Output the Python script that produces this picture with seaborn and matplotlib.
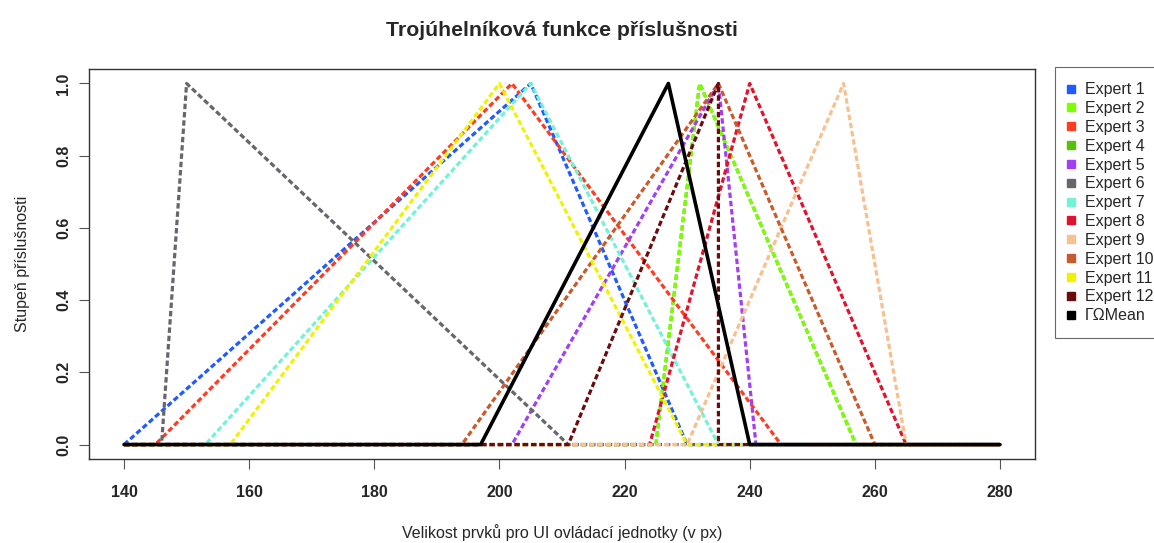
import numpy as np
import pandas as pd
import matplotlib
matplotlib.use('Agg')
import matplotlib.pyplot as plt
import seaborn as sns
from matplotlib.lines import Line2D

# triangular membership functions: (left foot, peak, right foot)
labels = ['Expert 1', 'Expert 2', 'Expert 3', 'Expert 4', 'Expert 5', 'Expert 6',
          'Expert 7', 'Expert 8', 'Expert 9', 'Expert 10', 'Expert 11', 'Expert 12',
          'ΓΩMean']
left_foot = [140, 225, 145, 225, 202, 146, 153, 224, 230, 194, 157, 211, 197]
peak = [205, 232, 202, 232, 235, 150, 205, 240, 255, 235, 200, 235, 227]
right_foot = [230, 257, 245, 257, 241, 211, 235, 265, 265, 260, 230, 235, 240]
x_range = [140, 280]

colors = ['#1f5bff', '#7cff00', '#ff3b22', '#56c10a', '#a23ff5', '#66676d',
          '#72f2d6', '#e3122c', '#f8c08f', '#c95a2b', '#f2f200', '#6a0b0e',
          '#000000']

sns.set_style('white')
plt.rcParams['font.family'] = ['Liberation Sans', 'DejaVu Sans']

fig = plt.figure(figsize=(11.54, 5.43), dpi=100)
ax = fig.add_axes([0.0771, 0.1547, 0.8198, 0.7182])

# expert 4 lies under expert 2, draw it first so the lime line stays on top
order = [3] + [i for i in range(len(labels)) if i != 3]
for i in order:
    df = pd.DataFrame({
        'x': [x_range[0], left_foot[i], peak[i], right_foot[i], x_range[1]],
        'y': [0, 0, 1, 0, 0],
    })
    if labels[i] == 'ΓΩMean':
        sns.lineplot(data=df, x='x', y='y', ax=ax, color=colors[i], lw=2.6,
                     sort=False, estimator=None)
    else:
        sns.lineplot(data=df, x='x', y='y', ax=ax, color=colors[i], lw=2.3,
                     sort=False, estimator=None)
        ax.lines[-1].set_dashes([1.7, 0.9])

ax.set_xlim(134.4, 285.6)
ax.set_ylim(-0.04, 1.04)
ax.set_xticks(np.arange(140, 281, 20))
ax.set_yticks(np.arange(0, 1.01, 0.2))
ax.set_yticklabels([f'{v:.1f}' for v in np.arange(0, 1.01, 0.2)], rotation=90, va='center')
ax.tick_params(axis='both', direction='out', length=7, width=0.8, color='#555555',
               labelsize=11.5, left=True, bottom=True)
ax.tick_params(axis='x', pad=12)
ax.tick_params(axis='y', pad=6)
for lab in ax.get_xticklabels() + ax.get_yticklabels():
    lab.set_fontweight('bold')
for sp in ax.spines.values():
    sp.set_color('#333333')
    sp.set_linewidth(1.0)

ax.set_xlabel('Velikost prvků pro UI ovládací jednotky (v px)', fontsize=11.5, labelpad=17)
ax.set_ylabel('Stupeň příslušnosti', fontsize=11.5, labelpad=19)
ax.set_title('Trojúhelníková funkce příslušnosti', fontsize=15.3, fontweight='bold', pad=24)

handles = [Line2D([], [], marker='s', linestyle='none', markersize=6,
                  markerfacecolor=c, markeredgecolor=c) for c in colors]
leg = fig.legend(handles, labels, loc='upper left', bbox_to_anchor=(0.9142, 0.8766),
                 frameon=True, fancybox=False, fontsize=11.5, labelspacing=0.24,
                 handlelength=0.1, handletextpad=0.8, borderpad=0.95, borderaxespad=0)
leg.get_frame().set_edgecolor('#444444')
leg.get_frame().set_linewidth(0.8)

fig.savefig('out.png', dpi=100)
